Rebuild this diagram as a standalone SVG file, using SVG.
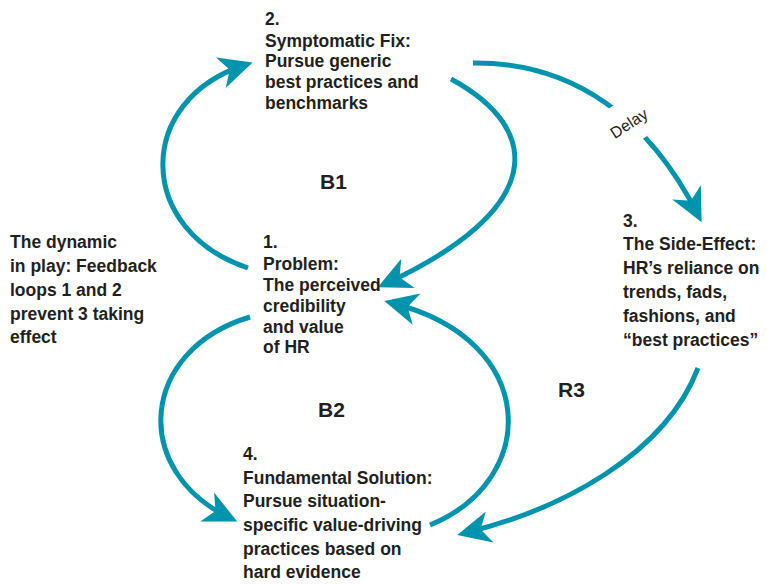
<svg xmlns="http://www.w3.org/2000/svg" width="767" height="585" viewBox="0 0 767 585">
<style>
.t{font-family:"Liberation Sans",Arial,sans-serif;font-weight:bold;font-size:17.5px;fill:#231f20}
.big{font-family:"Liberation Sans",Arial,sans-serif;font-weight:bold;font-size:21px;fill:#231f20}
.c{fill:none;stroke:#0093ad;stroke-width:5}
</style>
<defs>
<marker id="ah" markerUnits="userSpaceOnUse" markerWidth="40" markerHeight="40" refX="19" refY="0" viewBox="-2 -14 30 28" orient="auto" overflow="visible">
<path d="M0,-12 L25,0 L0,12 L7,0 Z" fill="#0093ad"/>
</marker>
</defs>
<rect width="767" height="585" fill="#fff"/>
<g id="connectors">
<path class="c" d="M248,268 C135,230 135,100 245,65" marker-end="url(#ah)"/>
<path class="c" d="M451,79 C545,130 545,210 385,284" marker-end="url(#ah)"/>
<path class="c" d="M473,63 C575,62 650,120 698,215" marker-end="url(#ah)"/>
<path class="c" d="M250,317 C140,350 130,470 230,518" marker-end="url(#ah)"/>
<path class="c" d="M430,525 C540,480 540,340 392,303" marker-end="url(#ah)"/>
<path class="c" d="M698,368 C665,455 560,510 465,533" marker-end="url(#ah)"/>
<g id="delay">
<rect x="-26" y="-24" width="52" height="44" fill="#fff" transform="translate(632,122) rotate(-33)"/>
<text transform="translate(632,128) rotate(-33)" text-anchor="middle" style="font-family:'Liberation Sans',Arial,sans-serif;font-size:16px;fill:#231f20">Delay</text>
</g>
</g>
<g id="n2">
<text class="t" x="265" y="25">2.</text>
<text class="t" x="265" y="47">Symptomatic Fix:</text>
<text class="t" x="265" y="67">Pursue generic</text>
<text class="t" x="265" y="88">best practices and</text>
<text class="t" x="265" y="109">benchmarks</text>
</g>
<g id="b1"><text class="big" x="320" y="189">B1</text></g>
<g id="n1">
<text class="t" x="263" y="248">1.</text>
<text class="t" x="263" y="270">Problem:</text>
<text class="t" x="263" y="291">The perceived</text>
<text class="t" x="263" y="312">credibility</text>
<text class="t" x="263" y="333">and value</text>
<text class="t" x="263" y="353">of HR</text>
</g>
<g id="note">
<text class="t" x="10" y="248">The dynamic</text>
<text class="t" x="10" y="272">in play: Feedback</text>
<text class="t" x="10" y="296">loops 1 and 2</text>
<text class="t" x="10" y="320">prevent 3 taking</text>
<text class="t" x="10" y="343">effect</text>
</g>
<g id="n3">
<text class="t" x="623" y="227">3.</text>
<text class="t" x="623" y="250">The Side-Effect:</text>
<text class="t" x="623" y="274">HR’s reliance on</text>
<text class="t" x="623" y="298">trends, fads,</text>
<text class="t" x="623" y="322">fashions, and</text>
<text class="t" x="623" y="346">“best practices”</text>
</g>
<g id="b2"><text class="big" x="318" y="417">B2</text></g>
<g id="r3"><text class="big" x="558" y="397">R3</text></g>
<g id="n4">
<text class="t" x="243" y="460">4.</text>
<text class="t" x="243" y="484">Fundamental Solution:</text>
<text class="t" x="243" y="507">Pursue situation-</text>
<text class="t" x="243" y="531">specific value-driving</text>
<text class="t" x="243" y="555">practices based on</text>
<text class="t" x="243" y="578">hard evidence</text>
</g>
</svg>
